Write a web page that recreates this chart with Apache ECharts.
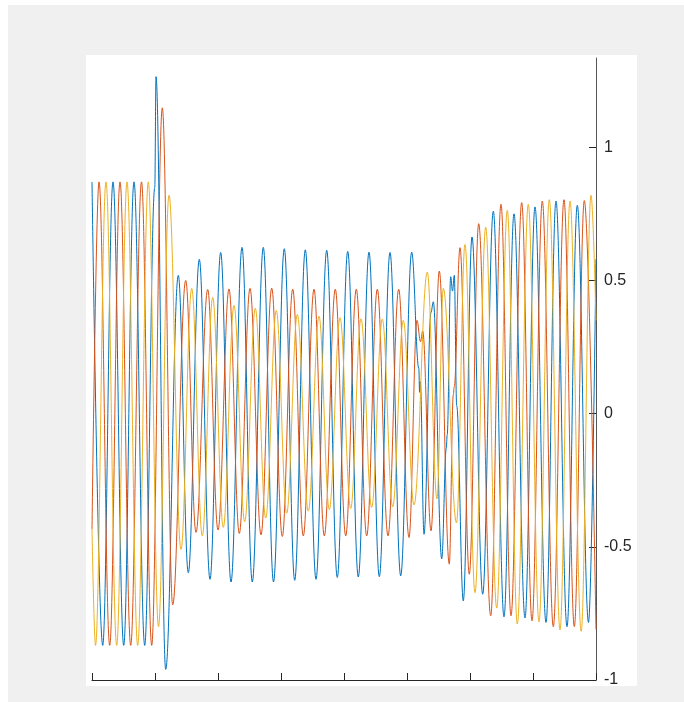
<!DOCTYPE html>
<html>
<head>
<meta charset="utf-8">
<script src="https://cdn.jsdelivr.net/npm/echarts@6/dist/echarts.min.js"></script>
<style>
html,body{margin:0;padding:0;background:#ffffff;}
#chart{width:684px;height:702px;}
</style>
</head>
<body>
<div id="chart"></div>
<script>
// time in ms (0..400) (peaks/troughs and kinks)
const yTicks = [-1, -0.5, 0, 0.5, 1];

const blueWave = [
  [0,0.87],[8.49,-0.87],[16.67,0.87],[25.16,-0.87],[33.33,0.87],[41.83,-0.87],
  [49.84,0.85],[50.79,1.265],[58.49,-0.96],[68.49,0.519],[76.43,-0.597],[85.16,0.579],
  [93.65,-0.622],[102.14,0.605],[110.32,-0.632],[119.05,0.624],[127.22,-0.632],[135.95,0.624],
  [144.05,-0.632],[152.62,0.619],[160.87,-0.626],[169.29,0.615],[177.78,-0.622],[186.27,0.613],
  [194.68,-0.615],[202.94,0.609],[211.35,-0.613],[219.84,0.606],[228.02,-0.612],[236.51,0.605],
  [245.0,-0.609],[253.73,0.606],[259.37,0.17],[260.0,0.08],[260.56,0.12],[263.49,-0.453],
  [269.05,0.38],[270.87,0.42],[277.54,-0.545],[281.19,-0.13],[281.9,-0.08],[284.68,0.514],
  [286.11,0.46],[287.54,0.519],[289.44,0.03],[294.68,-0.703],[301.59,0.663],[310.08,-0.678],
  [318.49,0.76],[326.98,-0.763],[334.92,0.75],[343.65,-0.767],[351.59,0.776],[360.32,-0.784],
  [368.25,0.798],[376.98,-0.80],[385.16,0.782],[394.05,-0.784],[400,0.58]
];

const orangeWave = [
  [0,-0.435],[5.56,0.87],[14.05,-0.87],[22.22,0.87],[30.71,-0.87],[39.29,0.87],[47.38,-0.87],
  [55.79,1.148],[64.05,-0.718],[74.37,0.50],[82.54,-0.446],[91.83,0.466],[100.0,-0.437],
  [108.73,0.468],[116.9,-0.45],[125.4,0.47],[134.13,-0.455],[142.62,0.471],[151.03,-0.461],
  [159.29,0.467],[167.7,-0.459],[176.19,0.467],[184.37,-0.459],[193.1,0.467],[201.35,-0.459],
  [209.76,0.467],[218.02,-0.459],[226.43,0.467],[234.92,-0.459],[243.41,0.467],[251.59,-0.465],
  [257.94,0.35],[260.71,0.27],[262.46,0.31],[269.05,-0.44],[275.63,0.535],[283.57,-0.565],
  [286.75,0.07],[287.46,0.10],[292.06,0.623],[299.44,-0.603],[306.9,0.713],[316.43,-0.759],
  [324.6,0.786],[332.54,-0.759],[341.03,0.792],[349.21,-0.778],[357.38,0.798],[366.11,-0.80],
  [374.6,0.803],[382.78,-0.80],[390.71,0.80],[400,-0.81]
];

const yellowWave = [
  [0,-0.435],[2.78,-0.87],[11.11,0.87],[19.6,-0.87],[27.78,0.87],[36.27,-0.87],[44.68,0.87],
  [52.78,-0.80],[61.11,0.82],[70.63,-0.51],[79.13,0.47],[87.54,-0.459],[95.79,0.436],
  [104.21,-0.427],[112.7,0.406],[121.19,-0.406],[129.6,0.395],[137.86,-0.392],[146.27,0.387],
  [154.52,-0.374],[162.94,0.372],[171.67,-0.366],[180.16,0.365],[188.33,-0.36],[196.83,0.36],
  [205.32,-0.356],[213.49,0.356],[221.98,-0.352],[230.4,0.355],[238.65,-0.35],[247.06,0.35],
  [255.56,-0.343],[266.11,0.531],[273.81,-0.32],[278.81,0.47],[289.29,-0.41],[296.03,0.635],
  [303.97,-0.672],[312.46,0.70],[321.19,-0.73],[329.6,0.763],[337.54,-0.79],[346.27,0.786],
  [354.76,-0.782],[362.94,0.803],[371.43,-0.812],[379.37,0.798],[388.25,-0.817],[396.03,0.82],
  [400,0.35]
];

const seriesColors = ['#0072BD', '#D95319', '#EDB120'];

const chart = echarts.init(document.getElementById('chart'), null, {renderer: 'canvas'});

function lineSeries(data, color) {
  return {
    type: 'line',
    data: data,
    showSymbol: false,
    smooth: 0.38,
    smoothMonotone: 'x',
    clip: false,
    lineStyle: {color: color, width: 1},
    itemStyle: {color: color},
    emphasis: {disabled: true},
    animation: false
  };
}

chart.setOption({
  animation: false,
  backgroundColor: '#ffffff',
  graphic: [
    {type: 'rect', z: -10, shape: {x: 8, y: 5, width: 676, height: 697}, style: {fill: '#f0f0f0'}},
    {type: 'rect', z: -9, shape: {x: 86, y: 55, width: 551, height: 631}, style: {fill: '#ffffff'}}
  ],
  grid: {left: 92, right: 88, top: 58, bottom: 22, containLabel: false},
  xAxis: {
    type: 'value', min: 0, max: 400, interval: 50, position: 'bottom',
    axisLine: {show: true, onZero: false, lineStyle: {color: '#262626', width: 1}},
    axisTick: {show: true, inside: true, length: 7, lineStyle: {color: '#262626', width: 1}},
    axisLabel: {show: false},
    splitLine: {show: false}
  },
  yAxis: {
    type: 'value', min: -1, max: 1.335, interval: 0.5, position: 'right',
    axisLine: {show: true, onZero: false, lineStyle: {color: '#555555', width: 1}},
    axisTick: {show: true, inside: true, length: 7, customValues: yTicks, lineStyle: {color: '#262626', width: 1}},
    axisLabel: {show: true, customValues: yTicks, margin: 8, color: '#262626', fontSize: 16,
      fontFamily: 'Liberation Sans, Arial, sans-serif'},
    splitLine: {show: false}
  },
  series: [
    lineSeries(blueWave, seriesColors[0]),
    lineSeries(orangeWave, seriesColors[1]),
    lineSeries(yellowWave, seriesColors[2])
  ]
});
</script>
</body>
</html>
